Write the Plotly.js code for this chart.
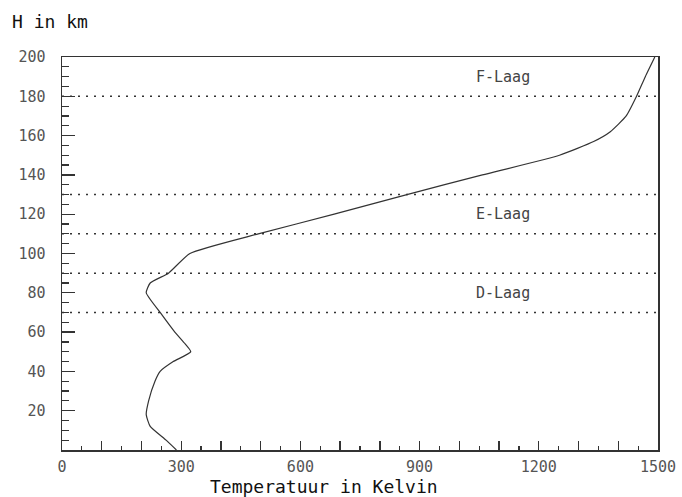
<!DOCTYPE html>
<html>
<head>
<meta charset="utf-8">
<script src="https://cdn.plot.ly/plotly-3.0.1.min.js"></script>
<style>html,body{margin:0;padding:0;background:#fff;}#chart{width:682px;height:497px;}</style>
</head>
<body>
<div id="chart"></div>
<script>
// Height (km) and temperature (K)
const heightKm = [0, 5, 12, 18, 25, 35, 40, 45, 50, 54, 60, 70, 80, 85, 90, 100, 110, 120, 130, 140, 150, 157, 162, 170, 180, 190, 200];
const tempK    = [288, 262, 222, 212, 218, 234, 247, 280, 324, 310, 284, 247, 212, 222, 268, 322, 494, 685, 868, 1058, 1252, 1338, 1380, 1420, 1446, 1468, 1492];

// Layer boundary lines (km)
const layerLines = [180, 130, 110, 90, 70];
// Layer labels
const layerNames = ["F-Laag", "E-Laag", "D-Laag"];
const layerLabelH = [190, 120, 80];
const layerLabelT = [1110, 1110, 1110];

// Ticks
const xTickVals = [0,100,200,300,400,500,600,700,800,900,1000,1100,1200,1300,1400,1500];
const xTickText = ["0","","","300","","","600","","","900","","","1200","","","1500"];
const yTickVals = [20,40,60,80,100,120,140,160,180,200];
const yTickText = ["20","40","60","80","100","120","140","160","180","200"];

const mono = "DejaVu Sans Mono, Liberation Mono, monospace";
const ink = "#333333";

const trace = {
  x: tempK, y: heightKm, type: "scatter", mode: "lines",
  line: {color: ink, width: 1.2, shape: "spline", smoothing: 0.5},
  hoverinfo: "skip"
};

const shapes = layerLines.map(h => ({
  type: "line", xref: "x", yref: "y", x0: 0, x1: 1500, y0: h, y1: h,
  line: {color: ink, width: 1.5, dash: "2px,6px"}
}));

const plotW = 682 - 62 - 24, plotH = 497 - 57 - 47;
function px(x) { return (x - 62) / plotW; }
function py(y) { return (497 - 47 - y) / plotH; }

const annotations = layerNames.map((n, i) => ({
  x: layerLabelT[i], y: layerLabelH[i], xref: "x", yref: "y", text: n,
  showarrow: false, font: {family: mono, size: 15, color: "#444"}
}));
annotations.push({
  x: px(10), y: py(21), xref: "paper", yref: "paper", text: "H in km",
  showarrow: false, xanchor: "left", yanchor: "middle",
  font: {family: mono, size: 18, color: "#111"}
});
annotations.push({
  x: px(324), y: py(486), xref: "paper", yref: "paper", text: "Temperatuur in Kelvin",
  showarrow: false, xanchor: "center", yanchor: "middle",
  font: {family: mono, size: 18, color: "#111"}
});

const layout = {
  width: 682, height: 497,
  margin: {l: 62, r: 24, t: 57, b: 47, pad: 0},
  paper_bgcolor: "#fff", plot_bgcolor: "#fff",
  showlegend: false,
  xaxis: {
    range: [0, 1500], tickvals: xTickVals, ticktext: xTickText,
    ticks: "inside", ticklen: 9, tickwidth: 1.3, tickcolor: ink,
    minor: {dtick: 50, tick0: 0, ticks: "inside", ticklen: 4, tickwidth: 1.2, tickcolor: ink},
    showgrid: false, zeroline: false,
    showline: true, linecolor: ink, linewidth: 1.5, mirror: true,
    tickfont: {family: mono, size: 15, color: "#555"},
    ticklabelstandoff: 2,
    title: {text: ""}
  },
  yaxis: {
    range: [0, 200], tickvals: yTickVals, ticktext: yTickText,
    ticks: "inside", ticklen: 13, tickwidth: 1.3, tickcolor: ink,
    minor: {dtick: 5, tick0: 0, ticks: "inside", ticklen: 7, tickwidth: 1.2, tickcolor: ink},
    showgrid: false, zeroline: false,
    showline: true, linecolor: ink, linewidth: 1.5, mirror: true,
    tickfont: {family: mono, size: 15, color: "#555"},
    ticklabelstandoff: 12,
    title: {text: ""}
  },
  shapes: shapes,
  annotations: annotations
};

Plotly.newPlot("chart", [trace], layout, {staticPlot: true, displayModeBar: false});
</script>
</body>
</html>
